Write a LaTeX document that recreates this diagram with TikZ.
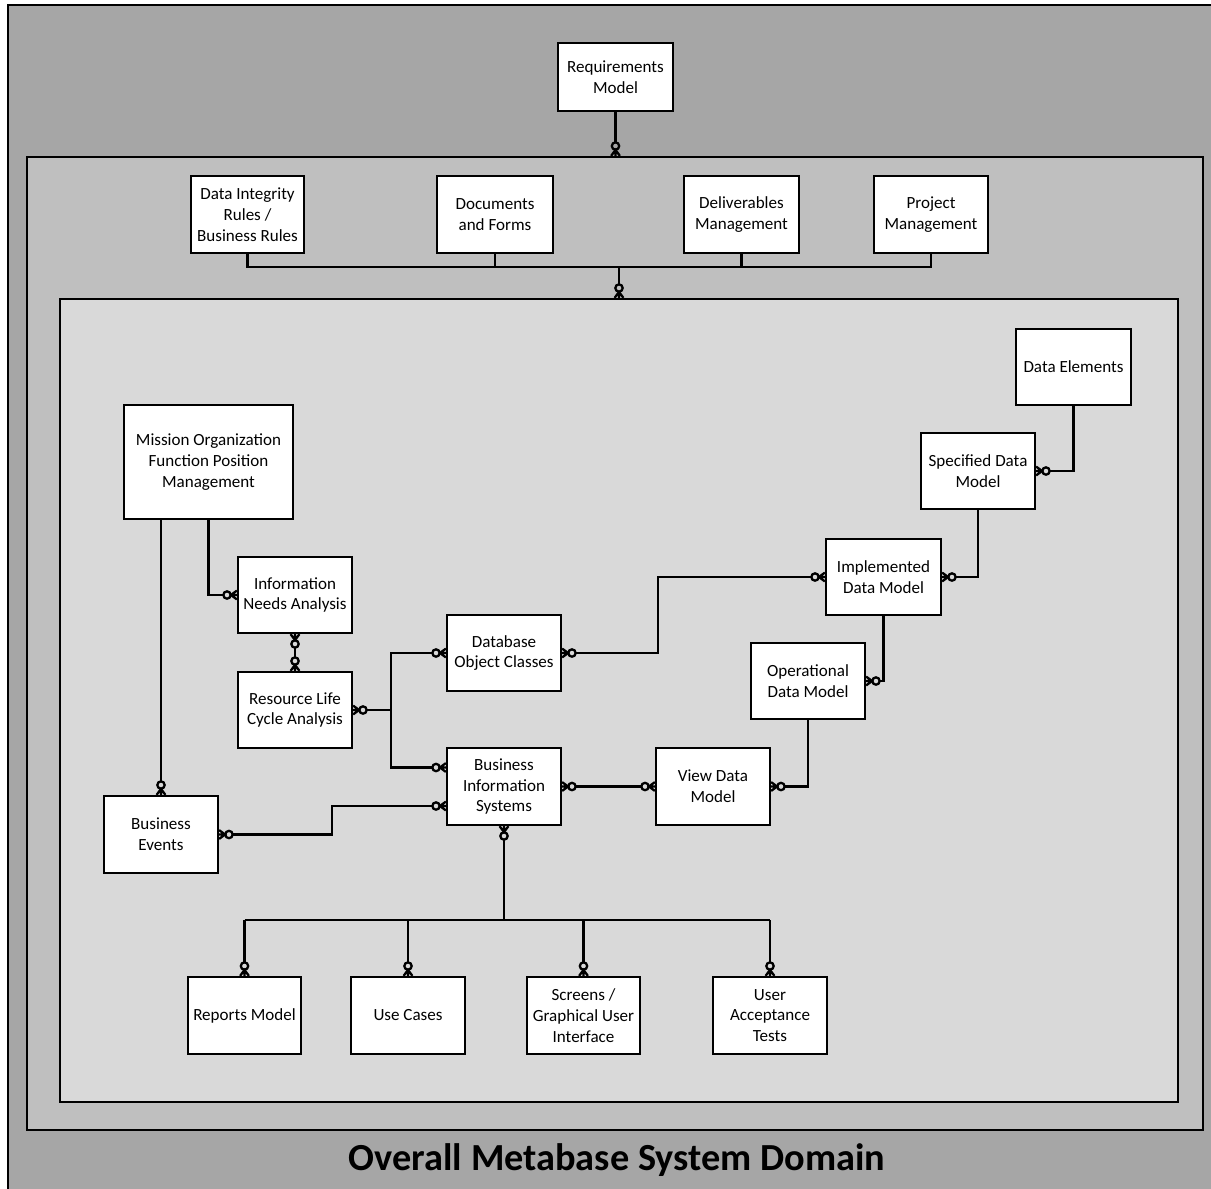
\documentclass[tikz,border=0pt]{standalone}
\usepackage{fontspec}
\setmainfont{Carlito}
\usetikzlibrary{arrows.meta,calc}

% "zero or many" end: crow's foot at the box, open circle behind it
\pgfdeclarearrow{
  name = ZeroMany,
  setup code = {
    \pgfarrowssettipend{0pt}
    \pgfarrowssetlineend{-7.7pt}
    \pgfarrowssetbackend{-8.4pt}
    \pgfarrowssetvisualbackend{-8.4pt}
    \pgfarrowshullpoint{0pt}{2.8pt}
    \pgfarrowshullpoint{0pt}{-2.8pt}
    \pgfarrowshullpoint{-8.4pt}{2.8pt}
    \pgfarrowshullpoint{-8.4pt}{-2.8pt}
  },
  drawing code = {
    \pgfsetlinewidth{1.3pt}
    \pgfsetdash{}{0pt}
    \pgfsetmiterjoin
    \pgfpathmoveto{\pgfqpoint{0pt}{2.5pt}}
    \pgfpathlineto{\pgfqpoint{-3.4pt}{0pt}}
    \pgfpathlineto{\pgfqpoint{0pt}{-2.5pt}}
    \pgfpathmoveto{\pgfqpoint{-3.4pt}{0pt}}
    \pgfpathlineto{\pgfpointorigin}
    \pgfusepathqstroke
    \pgfpathcircle{\pgfqpoint{-5.6pt}{0pt}}{2.1pt}
    \pgfusepathqstroke
  }
}

\definecolor{outergray}{HTML}{A6A6A6}
\definecolor{midgray}{HTML}{BFBFBF}
\definecolor{innergray}{HTML}{D9D9D9}

\tikzset{
  dims/.style args={#1x#2}{minimum width=#1*0.02cm, minimum height=#2*0.02cm},
  frame/.style={draw, line width=1.3pt, inner sep=0pt},
  box/.style={draw, line width=1.3pt, fill=white, align=center, inner sep=2pt,
    font=\fontsize{9.7}{11.9}\selectfont},
  link/.style={line width=1.5pt},
  tozm/.style={-{ZeroMany}},
  fromzm/.style={{ZeroMany}-},
  bothzm/.style={{ZeroMany}-{ZeroMany}},
}

\begin{document}
\begin{tikzpicture}[x=0.02cm, y=-0.02cm]
\useasboundingbox (0,0) rectangle (1211,1188);
\clip (0,0) rectangle (1211,1188);

% nested domain frames
\node[frame, fill=outergray, dims=1222x1205] (outer) at (619,607.5) {};
\node[frame, fill=midgray, dims=1176x973] (mid) at (615,643.5) {};
\node[frame, fill=innergray, dims=1118x803] (inner) at (619,700.5) {};
\node[font=\bfseries\fontsize{21.8}{26}\selectfont] (title) at (617,1160) {Overall Metabase System Domain};

% outer level
\node[box, dims=115x68] (req) at (615.5,77) {Requirements\\Model};

% middle level
\node[box, dims=113x77] (dir)  at (247.5,214.5) {Data Integrity\\Rules /\\Business Rules};
\node[box, dims=116x77] (docf) at (495,214.5) {Documents\\and Forms};
\node[box, dims=115x77] (dlv)  at (741.5,214.5) {Deliverables\\Management};
\node[box, dims=114x77] (pm)   at (931,214.5) {Project\\Management};

% inner level
\node[box, dims=115x76] (de)   at (1073.5,367) {Data Elements};
\node[box, dims=169x114] (mis) at (208.5,462) {Mission Organization\\Function Position\\Management};
\node[box, dims=114x76] (sdm)  at (978,471) {Specified Data\\Model};
\node[box, dims=114x76] (ina)  at (295,595) {Information\\Needs Analysis};
\node[box, dims=115x76] (imp)  at (883.5,577) {Implemented\\Data Model};
\node[box, dims=114x76] (dbo)  at (504,653) {Database\\Object Classes};
\node[box, dims=114x76] (rlca) at (295,710) {Resource Life\\Cycle Analysis};
\node[box, dims=114x76] (odm)  at (808,681) {Operational\\Data Model};
\node[box, dims=114x77] (bis)  at (504,786.5) {Business\\Information\\Systems};
\node[box, dims=114x77] (vdm)  at (713,786.5) {View Data\\Model};
\node[box, dims=114x77] (be)   at (161,834.5) {Business\\Events};
\node[box, dims=113x77] (rep)  at (244.5,1015.5) {Reports Model};
\node[box, dims=114x77] (uc)   at (408,1015.5) {Use Cases};
\node[box, dims=113x77] (scr)  at (583.5,1015.5) {Screens /\\Graphical User\\Interface};
\node[box, dims=114x77] (uat)  at (770,1015.5) {User\\Acceptance\\Tests};

% junction points
\coordinate (topbus) at (619,267);
\coordinate (botbus) at (504,920);
\coordinate (bisA) at ($(bis.west)+(0,-19)$);
\coordinate (bisB) at ($(bis.west)+(0,19.5)$);

% connectors
\draw[link,tozm] (req.south) -- (req.south |- mid.north);
\draw[link] (dir.south) |- (topbus) -| (pm.south);
\draw[link] (docf.south) -- (docf.south |- topbus);
\draw[link] (dlv.south) -- (dlv.south |- topbus);
\draw[link,tozm] (topbus) -- (topbus |- inner.north);

\draw[link,tozm] (de.south) |- (sdm.east);
\draw[link,tozm] (sdm.south) |- (imp.east);
\draw[link,bothzm] (dbo.east) -- ++(96,0) |- (imp.west);
\draw[link,tozm] (imp.south) |- (odm.east);
\draw[link,tozm] (odm.south) |- (vdm.east);
\draw[link,bothzm] (bis.east) -- (vdm.west);

\draw[link,tozm] (mis.south) |- (ina.west);
\draw[link,tozm] (be.north |- mis.south) -- (be.north);
\draw[link,bothzm] (ina.south) -- (rlca.north);
\draw[link,fromzm] (rlca.east) -- ++(38,0) coordinate (fork);
\draw[link,bothzm] (dbo.west) -| (fork) |- (bisA);
\draw[link,bothzm] (be.east) -- ++(113,0) |- (bisB);

\draw[link,fromzm] (bis.south) -- (botbus);
\draw[link] (rep.north |- botbus) -- (uat.north |- botbus);
\foreach \n in {rep,uc,scr,uat}
  \draw[link,tozm] (\n.north |- botbus) -- (\n.north);
\end{tikzpicture}
\end{document}
